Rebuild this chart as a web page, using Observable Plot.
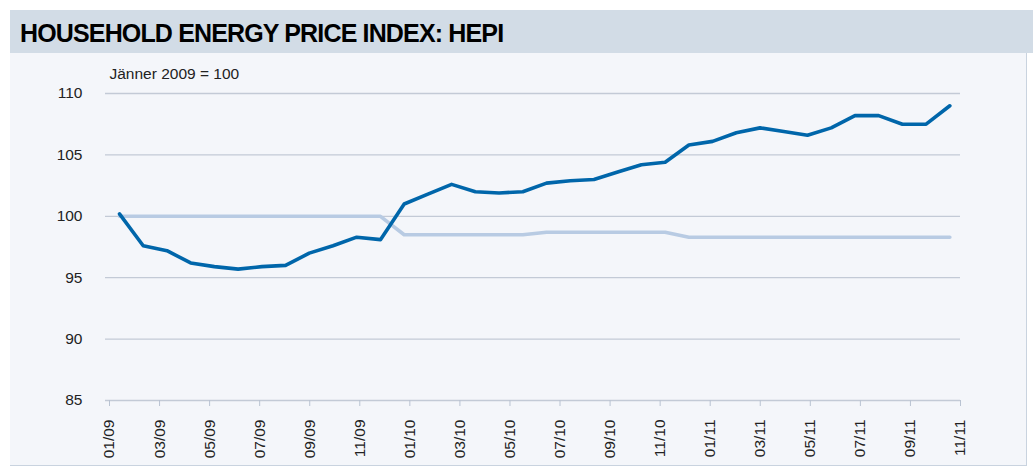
<!DOCTYPE html>
<html>
<head>
<meta charset="utf-8">
<script src="https://cdn.jsdelivr.net/npm/d3@7"></script>
<script src="https://cdn.jsdelivr.net/npm/@observablehq/plot@0.6"></script>
<style>
  html, body { margin: 0; padding: 0; background: #ffffff; }
  #wrap { position: relative; width: 1033px; height: 469px; overflow: hidden; background: #ffffff; font-family: "Liberation Sans", Arial, sans-serif; }
  #band { position: absolute; left: 10px; top: 10px; width: 1023px; height: 43px; background: #d2dce6; }
  #title { position: absolute; left: 20px; top: 19px; font: bold 25px/29px "Liberation Sans", Arial, sans-serif; color: #000; letter-spacing: -0.85px; white-space: nowrap; }
  #panel { position: absolute; left: 10px; top: 53px; width: 1016px; height: 412px; background: #f4f6fa; border-right: 1px solid #c9d3df; border-bottom: 1px solid #c9d3df; }
  #chart { position: absolute; left: 0; top: 53px; }
</style>
</head>
<body>
<div id="wrap">
  <div id="band"></div>
  <div id="title">HOUSEHOLD ENERGY PRICE INDEX: HEPI</div>
  <div id="panel"></div>
  <div id="chart"></div>
</div>
<script>
// Months Jan 2009 .. Dec 2011 (36 monthly points)
const months = [
  "01/09","02/09","03/09","04/09","05/09","06/09","07/09","08/09","09/09","10/09","11/09","12/09",
  "01/10","02/10","03/10","04/10","05/10","06/10","07/10","08/10","09/10","10/10","11/10","12/10",
  "01/11","02/11","03/11","04/11","05/11","06/11","07/11","08/11","09/11","10/11","11/11","12/11"
];
// HEPI (dark blue)
const hepi = [
  100.2, 97.6, 97.2, 96.2, 95.9, 95.7, 95.9, 96.0, 97.0, 97.6, 98.3, 98.1,
  101.0, 101.8, 102.6, 102.0, 101.9, 102.0, 102.7, 102.9, 103.0, 103.6, 104.2, 104.4,
  105.8, 106.1, 106.8, 107.2, 106.9, 106.6, 107.2, 108.2, 108.2, 107.5, 107.5, 109.0
];
// Comparison series (light blue)
const other = [
  100.0, 100.0, 100.0, 100.0, 100.0, 100.0, 100.0, 100.0, 100.0, 100.0, 100.0, 100.0,
  98.5, 98.5, 98.5, 98.5, 98.5, 98.5, 98.7, 98.7, 98.7, 98.7, 98.7, 98.7,
  98.3, 98.3, 98.3, 98.3, 98.3, 98.3, 98.3, 98.3, 98.3, 98.3, 98.3, 98.3
];
const tickLabels = ["01/09","03/09","05/09","07/09","09/09","11/09","01/10","03/10","05/10",
  "07/10","09/10","11/10","01/11","03/11","05/11","07/11","09/11","11/11"];
const yTicks = [85, 90, 95, 100, 105, 110];
const subtitle = "Jänner 2009 = 100";

const dark = months.map((m, i) => ({i, m, v: hepi[i]}));
const light = months.map((m, i) => ({i, m, v: other[i]}));

// category axis: labels sit on tick marks that are offset from the point centres
const tickOffset = -0.421, tickStep = 2.110;
const tickPos = tickLabels.map((_, k) => tickOffset + k * tickStep);

const chart = Plot.plot({
  width: 1033,
  height: 416,
  marginLeft: 109,
  marginRight: 73,
  marginTop: 40,
  marginBottom: 69,
  style: {background: "transparent", fontFamily: "'Liberation Sans', Arial, sans-serif", color: "#222"},
  x: {domain: [tickPos[0], tickPos[tickPos.length - 1]]},
  y: {domain: [85, 110]},
  marks: [
    Plot.ruleY(yTicks.slice(1), {stroke: "#c3cad6", strokeWidth: 1.3, insetLeft: -4, insetRight: 0}),
    Plot.ruleY([85], {stroke: "#c3cad6", strokeWidth: 1.3, insetLeft: -4}),
    Plot.axisY({ticks: yTicks, tickSize: 0, tickPadding: 27, fontSize: 15.5, label: null, fill: "#222"}),
    Plot.axisX({ticks: tickPos, tickFormat: (d, k) => tickLabels[k], tickRotate: -90, tickSize: 6, tickPadding: 13,
      stroke: "#b9c3d2", fontSize: 15.5, label: null, fill: "#222"}),
    Plot.text([subtitle], {frameAnchor: "top-left", dx: 0, dy: -19, lineAnchor: "middle", textAnchor: "start", fontSize: 15.5, fill: "#222"}),
    Plot.line(light, {x: "i", y: "v", stroke: "#b8cbe3", strokeWidth: 3.6}),
    Plot.line(dark, {x: "i", y: "v", stroke: "#0066aa", strokeWidth: 3.6, strokeLinecap: "round"})
  ]
});
document.getElementById("chart").appendChild(chart);
</script>
</body>
</html>
